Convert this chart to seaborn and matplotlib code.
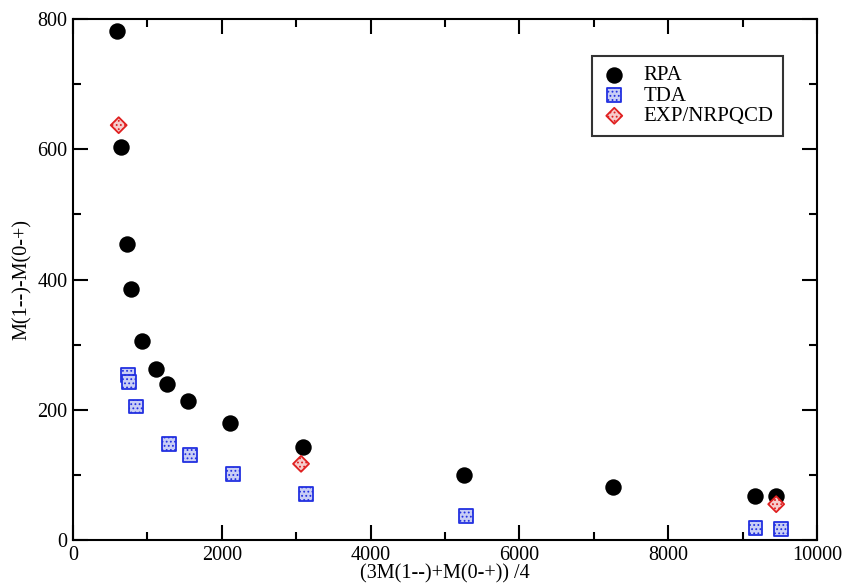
import pandas as pd
import matplotlib
matplotlib.use("Agg")
import matplotlib.pyplot as plt
import seaborn as sns

# values
rpa_x = [587, 645, 722, 784, 928, 1112, 1268, 1542, 2115, 3096, 5260, 7254, 9160, 9451]
rpa_y = [782, 604, 454, 385, 306, 262, 239, 213, 179, 143, 100, 81, 68, 68]

tda_x = [743, 757, 843, 1295, 1573, 2147, 3128, 5287, 9173, 9519]
tda_y = [253, 243, 205, 148, 131, 102, 70, 37, 19, 17]

exp_x = [614, 3065, 9451]
exp_y = [637, 117, 55]

sns.set_theme(style="ticks")
plt.rcParams["font.family"] = ["Liberation Serif", "DejaVu Serif"]
plt.rcParams["text.color"] = "black"
plt.rcParams["axes.labelcolor"] = "black"
plt.rcParams["hatch.linewidth"] = 0.8

fig = plt.figure(figsize=(8.43, 5.86), dpi=100)
ax = fig.add_axes([0.0866, 0.0785, 0.8826, 0.889])

rpa = pd.DataFrame({"x": rpa_x, "y": rpa_y})
tda = pd.DataFrame({"x": tda_x, "y": tda_y})
exp = pd.DataFrame({"x": exp_x, "y": exp_y})

sns.scatterplot(data=rpa, x="x", y="y", ax=ax, marker="o", s=140,
                color="black", edgecolor="black", linewidth=0, label="RPA", zorder=3)
sns.scatterplot(data=tda, x="x", y="y", ax=ax, marker="s", s=100,
                facecolor="#c9cef5", edgecolor="#2230e0", linewidth=1.3,
                hatch="....", label="TDA", zorder=4)
sns.scatterplot(data=exp, x="x", y="y", ax=ax, marker="D", s=66,
                facecolor="#f6cccc", edgecolor="#e02020", linewidth=1.3,
                hatch="....", label="EXP/NRPQCD", zorder=5)

ax.set_xlim(0, 10000)
ax.set_ylim(0, 800)
ax.set_xticks([0, 2000, 4000, 6000, 8000, 10000])
ax.set_xticks(range(1000, 10000, 2000), minor=True)
ax.set_yticks([0, 200, 400, 600, 800])
ax.set_yticks(range(100, 800, 200), minor=True)
ax.tick_params(which="both", direction="in", top=True, right=True,
               labelsize=14.5, width=1.5, colors="black", pad=4)
ax.tick_params(which="major", length=11)
ax.tick_params(which="minor", length=5.5)
for sp in ax.spines.values():
    sp.set_visible(True)
    sp.set_linewidth(1.5)
    sp.set_color("black")

ax.set_xlabel("(3M(1--)+M(0-+)) /4", fontsize=14.5, labelpad=0)
ax.set_ylabel("M(1--)-M(0-+)", fontsize=14.5, labelpad=4)

leg = ax.legend(loc="upper right", bbox_to_anchor=(0.954, 0.929), fontsize=15,
                frameon=True, fancybox=False, borderpad=0.45, labelspacing=0.05,
                handlelength=1.2, handletextpad=0.8, markerscale=1.0,
                borderaxespad=0)
leg.get_frame().set_edgecolor("black")
leg.get_frame().set_linewidth(1.5)

fig.savefig("out.png", dpi=100)
